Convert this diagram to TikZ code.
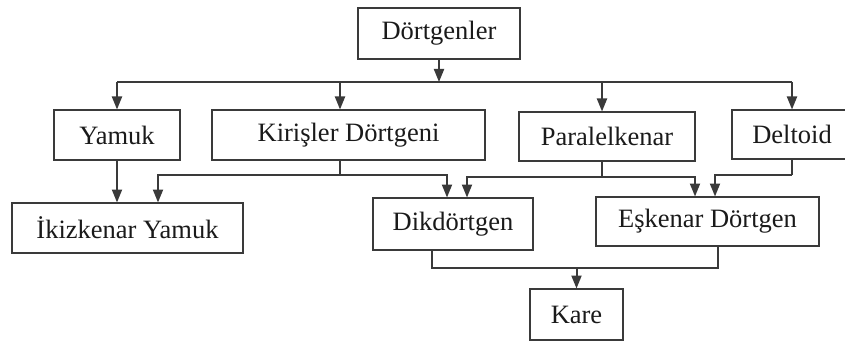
\documentclass[tikz,border=0pt]{standalone}
\usepackage{fontspec}
\setmainfont{Liberation Serif}
\usetikzlibrary{arrows.meta, positioning}
\definecolor{linec}{HTML}{3A3A3A}
\definecolor{textc}{HTML}{1A1A1A}
\newcommand{\kutu}[5]{%
  \node[draw=linec, fill=white, line width=1pt, inner sep=0pt,
        minimum width=#3, minimum height=#4, text=textc] (#1) at #2 {#5};
}

\begin{document}
\begin{tikzpicture}[x=1pt, y=-1pt, scale=0.5, transform shape,
      line width=1pt, linec,
      font=\fontsize{26.5}{30}\selectfont,
      ok/.style={-{Triangle[width=5pt,length=6.5pt]}}]
    \useasboundingbox (0,0) rectangle (845,342);
    \kutu{dortgen}{(439,33.5)}{162}{51}{Dörtgenler}
    \kutu{yamuk}{(117,135)}{126}{50}{Yamuk}
    \kutu{kiris}{(348.5,135)}{273}{50}{Kirişler Dörtgeni}
    \kutu{paralel}{(607,136.5)}{176}{49}{Paralelkenar}
    \kutu{deltoid}{(792,134.5)}{120}{49}{Deltoid}
    \kutu{ikiz}{(127.5,228)}{231}{50}{İkizkenar Yamuk}
    \kutu{dik}{(453,224)}{160}{52}{Dikdörtgen}
    \kutu{eskenar}{(707.5,221.5)}{223}{49}{Eşkenar Dörtgen}
    \kutu{kare}{(576.5,314.5)}{93}{51}{Kare}
    % ust dagitim hatti
    \coordinate (ustbus) at (439,82);
    \draw[ok] (dortgen) -- (ustbus);
    \draw (yamuk |- ustbus) -- (deltoid |- ustbus);
    \foreach \n/\x in {yamuk/117, kiris/340, paralel/602, deltoid/792}
      \draw[ok] (\x,82) -- (\x,0 |- \n.north);
    % ikinci seviye
    \draw[ok] (yamuk) -- (yamuk |- ikiz.north);
    \coordinate (kb) at (340,175);
    \draw (kb |- kiris.south) -- (kb);
    \draw[ok] (kb) -| (158,0 |- ikiz.north);
    \draw[ok] (kb) -| (447,0 |- dik.north);
    \coordinate (pb) at (602,177);
    \draw (pb |- paralel.south) -- (pb);
    \draw[ok] (pb) -| (467,0 |- dik.north);
    \draw[ok] (pb) -| (695,0 |- eskenar.north);
    \coordinate (db) at (792,175);
    \draw (db |- deltoid.south) -- (db);
    \draw[ok] (db) -| (715,0 |- eskenar.north);
    % kare
    \coordinate (alt) at (576,268);
    \draw (432,0 |- dik.south) |- (718,268) -- (718,0 |- eskenar.south);
    \draw[ok] (kare |- alt) -- (kare);
\end{tikzpicture}
\end{document}
